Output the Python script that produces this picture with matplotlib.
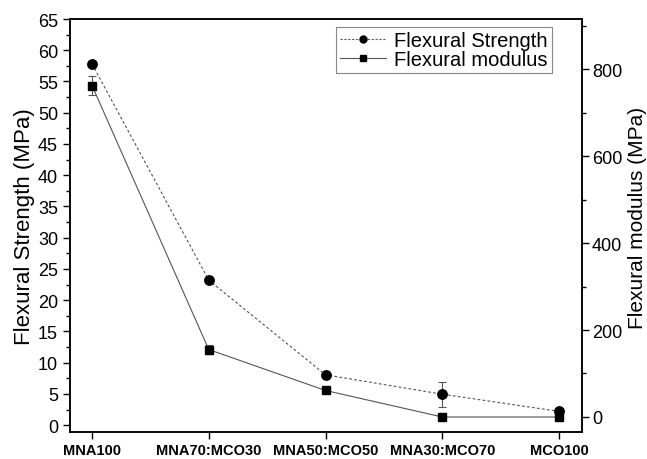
import numpy as np
import matplotlib.pyplot as plt
from matplotlib.ticker import MultipleLocator
from matplotlib.lines import Line2D

plt.rcParams['font.family'] = ['Liberation Sans', 'DejaVu Sans']

samples = ['MNA100', 'MNA70:MCO30', 'MNA50:MCO50', 'MNA30:MCO70', 'MCO100']
strength = [57.8, 23.2, 8.05, 4.95, 2.2]
strength_err = [0.5, 0.3, 0.3, 2.0, 0.3]
modulus = [762, 155, 61, 0, 0]
modulus_err = [21, 11, 5, 3, 6]

x = np.arange(len(samples))

fig = plt.figure(figsize=(6.47, 4.6), dpi=100)
ax = fig.add_axes([0.108, 0.0587, 0.792, 0.8978])
ax2 = ax.twinx()

line_col = '#555555'
ax.errorbar(x, strength, yerr=strength_err, color=line_col, ls=(0, (2.5, 2)), lw=0.8,
            marker='o', ms=6.8, mfc='black', mec='black', ecolor=line_col,
            elinewidth=0.8, capsize=3, capthick=0.8)
ax2.errorbar(x, modulus, yerr=modulus_err, color=line_col, ls='-', lw=0.8,
             marker='s', ms=6.3, mfc='black', mec='black', ecolor=line_col,
             elinewidth=0.8, capsize=3, capthick=0.8)

ax.set_xlim(-0.19, 4.2)
ax.set_ylim(-1.1, 65)
ax2.set_ylim(-34.5, 915)

ax.set_xticks(x)
ax.set_xticklabels(samples, fontsize=10.5, fontweight='bold')
ax.yaxis.set_major_locator(MultipleLocator(5))
ax.yaxis.set_minor_locator(MultipleLocator(2.5))
ax2.yaxis.set_major_locator(MultipleLocator(200))
ax2.yaxis.set_minor_locator(MultipleLocator(100))

ax.tick_params(axis='x', which='major', direction='out', length=5, width=1, pad=3)
ax.tick_params(axis='y', which='major', direction='out', length=5, width=1, labelsize=13)
ax.tick_params(axis='y', which='minor', direction='out', length=3, width=1)
ax2.tick_params(axis='y', which='major', direction='out', length=5, width=1, labelsize=13, pad=2)
ax2.tick_params(axis='y', which='minor', direction='out', length=3, width=1)

for a in (ax, ax2):
    for s in a.spines.values():
        s.set_linewidth(1.1)

ax.set_ylabel('Flexural Strength (MPa)', fontsize=16, labelpad=2)
ax2.set_ylabel('Flexural modulus (MPa)', fontsize=15, va='center')
ax2.yaxis.set_label_coords(1.108, 0.52)

h1 = Line2D([], [], color=line_col, ls=(0, (2, 1.5)), lw=0.8, marker='o', ms=5,
            mfc='black', mec='black')
h2 = Line2D([], [], color=line_col, ls='-', lw=0.8, marker='s', ms=4.5,
            mfc='black', mec='black')
leg = ax.legend([h1, h2], ['Flexural Strength', 'Flexural modulus'], loc='upper right',
                bbox_to_anchor=(0.94, 0.98), fontsize=14.5, fancybox=False, framealpha=1,
                edgecolor='#888888', handlelength=2.3, borderpad=0.2, labelspacing=0.0,
                handletextpad=0.4, borderaxespad=0)
leg.get_frame().set_linewidth(0.8)

fig.savefig('out.png', dpi=100)
